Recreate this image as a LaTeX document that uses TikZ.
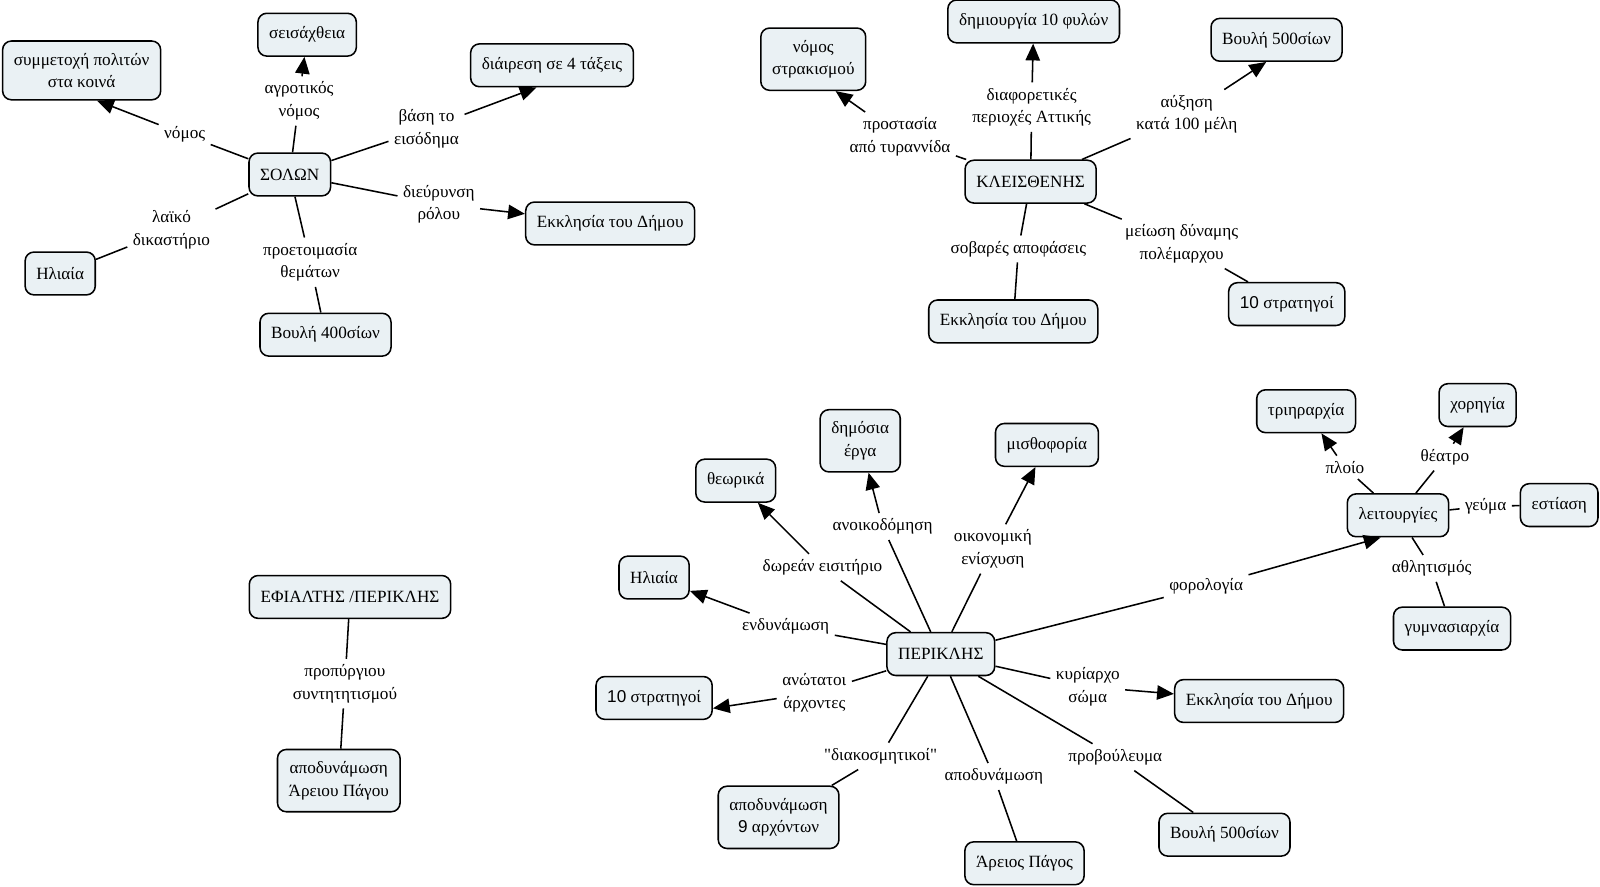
\documentclass[tikz,border=0pt]{standalone}
\usepackage{fontspec}
\setmainfont{Liberation Serif}
\newfontfamily\numfont{Liberation Sans}
\newfontfamily\quotefont{Liberation Serif}
\usetikzlibrary{arrows.meta}
\definecolor{conceptfill}{RGB}{234,241,244}

\begin{document}
\begin{tikzpicture}[x=0.0255cm,y=-0.0255cm,line width=1.1pt,-]
    \tikzstyle{concept}=[draw=black,fill=conceptfill,rounded corners=0.22cm,inner xsep=0.28cm,inner ysep=0.3cm,minimum height=1.07cm,align=center,font=\fontsize{12.2}{16}\selectfont]
    \tikzstyle{linkname}=[inner sep=0.12cm,align=center,font=\fontsize{12.2}{16}\selectfont]
    \tikzstyle{arrow}=[-{Triangle[length=0.42cm,width=0.36cm]}]
    \useasboundingbox (0,0) rectangle (1568,869);

    % Solon
    \node[concept] (S-solon) at (284,171) {ΣΟΛΩΝ};
    \node[concept] (S-symm) at (80,69) {συμμετοχή πολιτών\\στα κοινά};
    \node[concept] (S-seis) at (301,34) {σεισάχθεια};
    \node[concept] (S-diair) at (541,64) {διάιρεση σε 4 τάξεις};
    \node[concept] (S-ekkl) at (598,219) {Εκκλησία του Δήμου};
    \node[concept] (S-ilia) at (59,268) {Ηλιαία};
    \node[concept] (S-vouli) at (319,328) {Βουλή 400σίων};
    \node[linkname] (s-nomos) at (181,132) {νόμος};
    \node[linkname] (s-agr) at (293,99) {αγροτικός\\νόμος};
    \node[linkname] (s-vasi) at (418,126) {βάση το\\εισόδημα};
    \node[linkname] (s-dieur) at (430,200) {διεύρυνση\\ρόλου};
    \node[linkname] (s-laiko) at (168,225) {λαϊκό\\δικαστήριο};
    \node[linkname] (s-proet) at (304,257) {προετοιμασία\\θεμάτων};

    % Kleisthenis
    \node[concept] (K-kleis) at (1010,178) {ΚΛΕΙΣΘΕΝΗΣ};
    \node[concept] (K-ostr) at (797,58) {νόμος\\στρακισμού};
    \node[concept] (K-fyles) at (1013,21) {δημιουργία 10 φυλών};
    \node[concept] (K-vouli) at (1251,39) {Βουλή 500σίων};
    \node[concept] (K-ekkl) at (993,315) {Εκκλησία του Δήμου};
    \node[concept] (K-strat) at (1261,298) {{\numfont 10} στρατηγοί};
    \node[linkname] (k-prost) at (882,134) {προστασία\\από τυραννίδα};
    \node[linkname] (k-diaf) at (1011,105) {διαφορετικές\\περιοχές Αττικής};
    \node[linkname] (k-afx) at (1163,112) {αύξηση\\κατά 100 μέλη};
    \node[linkname] (k-sovar) at (998,244) {σοβαρές αποφάσεις};
    \node[linkname] (k-meiosi) at (1158,239) {μείωση δύναμης\\πολέμαρχου};

    % Efialtis
    \node[concept] (E-efi) at (343,585) {ΕΦΙΑΛΤΗΣ /ΠΕΡΙΚΛΗΣ};
    \node[concept] (E-areios) at (332,765) {αποδυνάμωση\\Άρειου Πάγου};
    \node[linkname] (e-prop) at (338,670) {προπύργιου\\συντητητισμού};

    % Periklis
    \node[concept] (P-per) at (922,641) {ΠΕΡΙΚΛΗΣ};
    \node[concept] (P-theor) at (721,471) {θεωρικά};
    \node[concept] (P-dimos) at (843,432) {δημόσια\\έργα};
    \node[concept] (P-misth) at (1026,436) {μισθοφορία};
    \node[concept] (P-ilia) at (641,566) {Ηλιαία};
    \node[concept] (P-strat) at (641,684) {{\numfont 10} στρατηγοί};
    \node[concept] (P-ekkl) at (1234,687) {Εκκλησία του Δήμου};
    \node[concept] (P-vouli) at (1200,818) {Βουλή 500σίων};
    \node[concept] (P-areios) at (1004,846) {Άρειος Πάγος};
    \node[concept] (P-arx) at (763,801) {αποδυνάμωση\\{\numfont 9} αρχόντων};
    \node[concept] (P-leit) at (1370,505) {λειτουργίες};
    \node[concept] (P-trier) at (1280,403) {τριηραρχία};
    \node[concept] (P-chor) at (1448,397) {χορηγία};
    \node[concept] (P-estia) at (1528,495) {εστίαση};
    \node[concept] (P-gymn) at (1423,616) {γυμνασιαρχία};
    \node[linkname] (p-dorean) at (806,556) {δωρεάν εισιτήριο};
    \node[linkname] (p-anoik) at (865,516) {ανοικοδόμηση};
    \node[linkname] (p-oikon) at (973,538) {οικονομική\\ενίσχυση};
    \node[linkname] (p-endyn) at (770,614) {ενδυνάμωση};
    \node[linkname] (p-anot) at (798,679) {ανώτατοι\\άρχοντες};
    \node[linkname] (p-kyr) at (1066,673) {κυρίαρχο\\σώμα};
    \node[linkname] (p-forol) at (1182,575) {φορολογία};
    \node[linkname] (p-diak) at (863,741) {{\quotefont "}διακοσμητικοί{\quotefont "}};
    \node[linkname] (p-apod) at (974,761) {αποδυνάμωση};
    \node[linkname] (p-provo) at (1093,742) {προβούλευμα};
    \node[linkname] (p-ploio) at (1318,458) {πλοίο};
    \node[linkname] (p-theat) at (1416,448) {θέατρο};
    \node[linkname] (p-geuma) at (1456,496) {γεύμα};
    \node[linkname] (p-athl) at (1403,557) {αθλητισμός};

    % links with arrow
    \foreach \from/\via/\to in {S-solon/s-nomos/S-symm.297, S-solon/s-agr/S-seis, S-solon/s-vasi/S-diair.235,
            S-solon/s-dieur/S-ekkl, K-kleis/k-prost/K-ostr.305, K-kleis/k-diaf/K-fyles, K-kleis/k-afx/K-vouli.245,
            P-per/p-dorean/P-theor, P-per/p-anoik/P-dimos, P-per/p-oikon/P-misth, P-per/p-endyn/P-ilia,
            P-per/p-anot/P-strat.350, P-per/p-kyr/P-ekkl, P-per/p-forol/P-leit.232, P-leit/p-ploio/P-trier,
            P-leit/p-theat/P-chor}
        {
        \draw (\from) -- (\via);
        \draw[arrow] (\via) -- (\to);
        }

    % links without arrow
    \foreach \from/\via/\to in {S-solon/s-laiko/S-ilia, S-solon/s-proet/S-vouli, K-kleis/k-sovar/K-ekkl,
            K-kleis/k-meiosi/K-strat, E-efi/e-prop/E-areios, P-per/p-diak/P-arx, P-per/p-apod/P-areios,
            P-per/p-provo/P-vouli, P-leit/p-geuma/P-estia, P-leit/p-athl/P-gymn}
        {
        \draw (\from) -- (\via);
        \draw (\via) -- (\to);
        }
\end{tikzpicture}
\end{document}
